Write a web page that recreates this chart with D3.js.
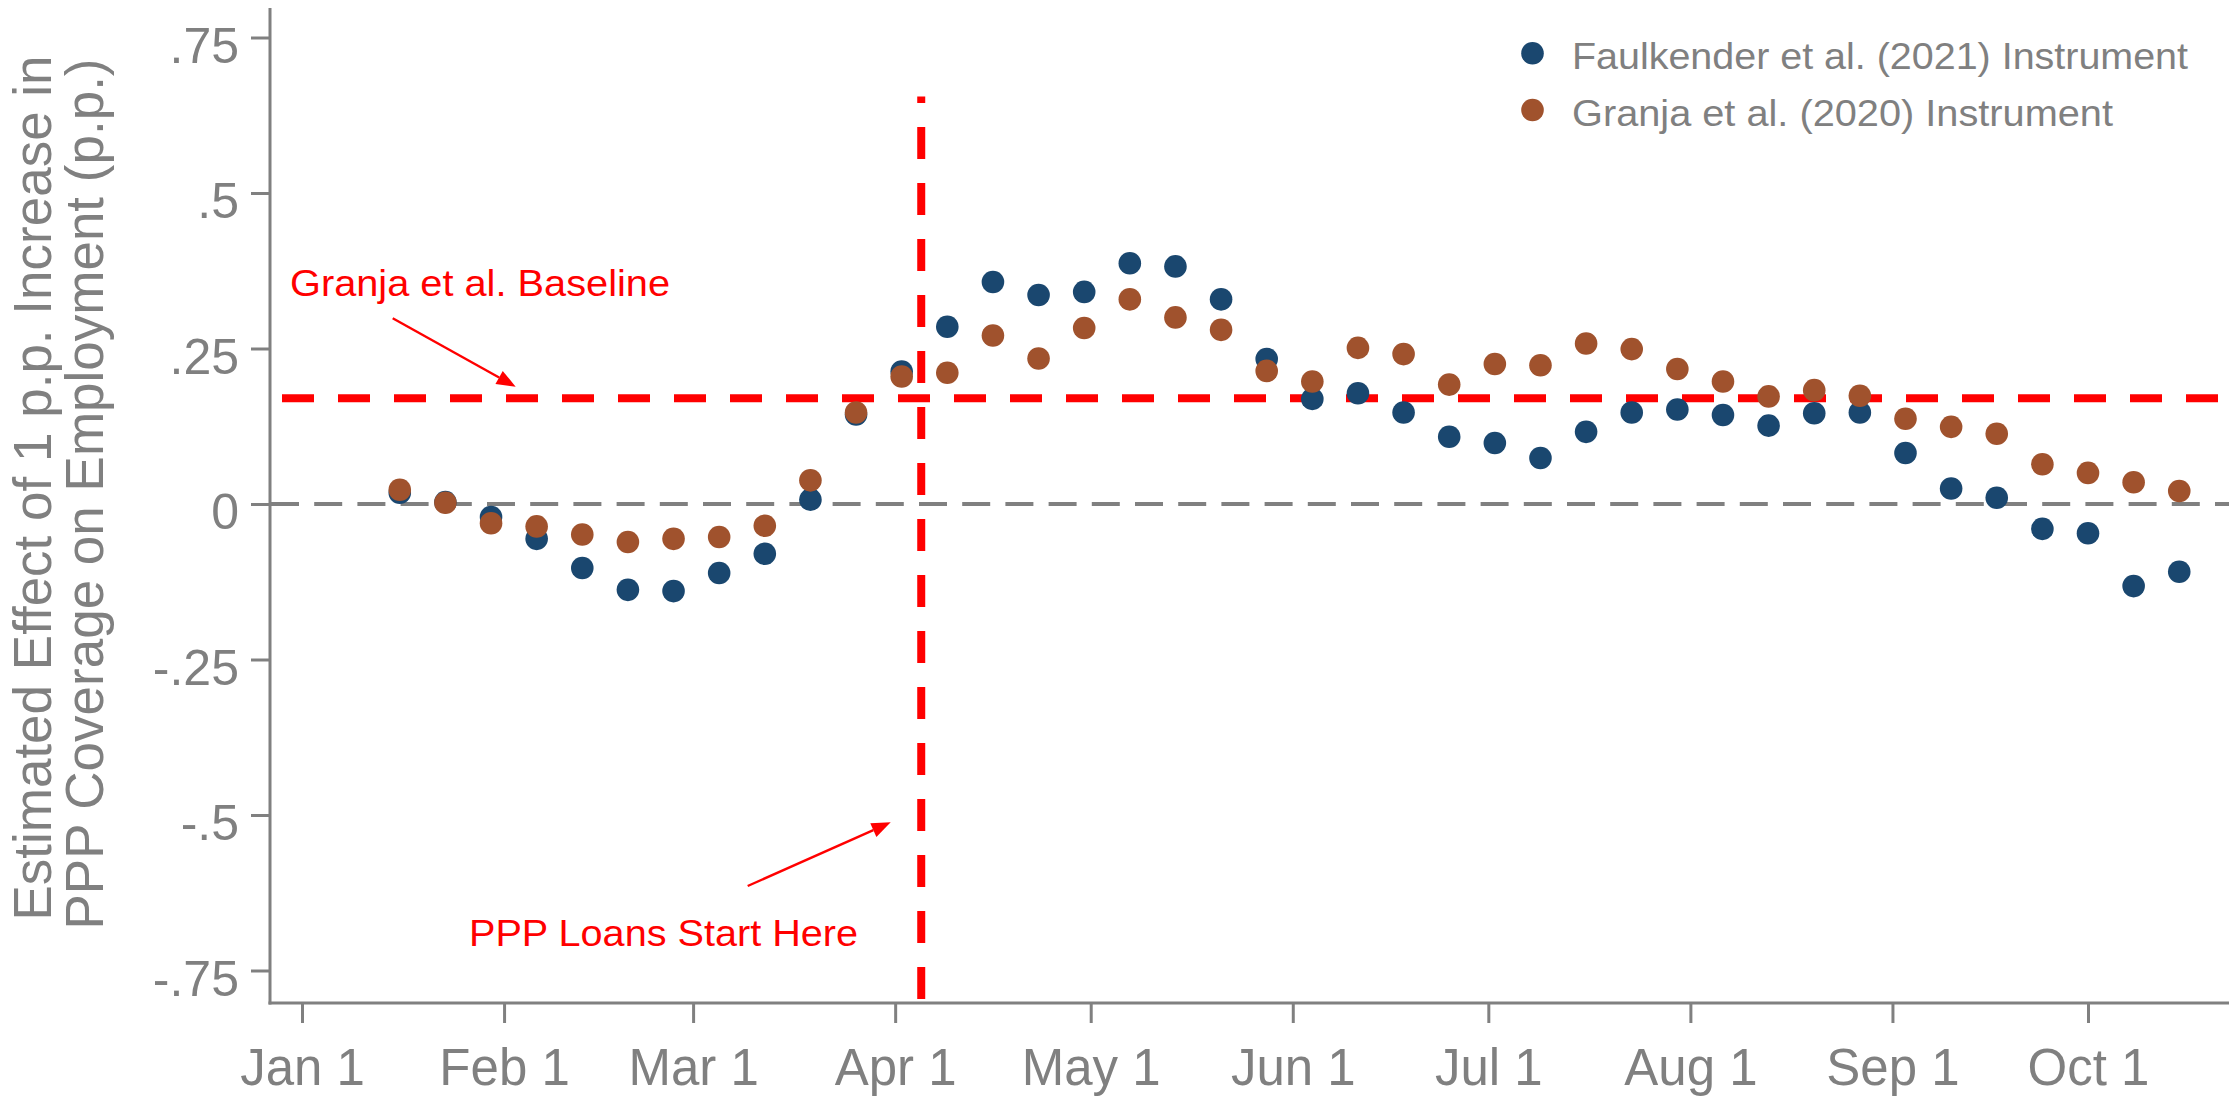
<!DOCTYPE html>
<html>
<head>
<meta charset="utf-8">
<script src="https://cdn.jsdelivr.net/npm/d3@7"></script>
<style>
  html, body { margin: 0; padding: 0; background: #ffffff; }
  svg { display: block; font-family: "Liberation Sans", Arial, sans-serif; }
</style>
</head>
<body>
<svg id="chart" width="2229" height="1096"></svg>
<script>
// Weekly estimates, 2020
const weekDates = [
  "2020-01-16","2020-01-23","2020-01-30","2020-02-06","2020-02-13","2020-02-20","2020-02-27",
  "2020-03-05","2020-03-12","2020-03-19","2020-03-26","2020-04-02","2020-04-09","2020-04-16",
  "2020-04-23","2020-04-30","2020-05-07","2020-05-14","2020-05-21","2020-05-28","2020-06-04",
  "2020-06-11","2020-06-18","2020-06-25","2020-07-02","2020-07-09","2020-07-16","2020-07-23",
  "2020-07-30","2020-08-06","2020-08-13","2020-08-20","2020-08-27","2020-09-03","2020-09-10",
  "2020-09-17","2020-09-24","2020-10-01","2020-10-08","2020-10-15"
];

// Faulkender et al. (2021) instrument
const faulkenderEst = [
  0.018, 0.003, -0.021, -0.056, -0.103, -0.138, -0.140, -0.111, -0.080, 0.007,
  0.144, 0.213, 0.285, 0.357, 0.336, 0.341, 0.387, 0.382, 0.329, 0.233,
  0.169, 0.178, 0.147, 0.108, 0.098, 0.074, 0.116, 0.147, 0.152, 0.143,
  0.126, 0.146, 0.147, 0.082, 0.025, 0.010, -0.040, -0.047, -0.132, -0.109
];

// Granja et al. (2020) instrument
const granjaEst = [
  0.023, 0.002, -0.031, -0.036, -0.049, -0.061, -0.056, -0.053, -0.035, 0.038,
  0.147, 0.205, 0.211, 0.271, 0.234, 0.283, 0.329, 0.300, 0.280, 0.214,
  0.197, 0.251, 0.241, 0.192, 0.225, 0.223, 0.258, 0.249, 0.217, 0.197,
  0.173, 0.183, 0.174, 0.137, 0.124, 0.113, 0.064, 0.050, 0.035, 0.021
];

const seriesNames = ["Faulkender et al. (2021) Instrument", "Granja et al. (2020) Instrument"];
const seriesColors = ["#1a476f", "#a0522d"];

const xTickDates = ["2020-01-01","2020-02-01","2020-03-01","2020-04-01","2020-05-01",
                    "2020-06-01","2020-07-01","2020-08-01","2020-09-01","2020-10-01"];
const yTickValues = [-0.75, -0.5, -0.25, 0, 0.25, 0.5, 0.75];

const granjaBaseline = 0.17;
const pppStartDate = "2020-04-05";
const pppLineTop = 0.655;

const yTitleLines = ["Estimated Effect of 1 p.p. Increase in", "PPP Coverage on Employment (p.p.)"];

// ---------------------------------------------------------------
const W = 2229, H = 1096;
const gray = "#808080";
const red = "#ff0000";
const parse = d3.utcParse("%Y-%m-%d");

const axisLeftX = 270, axisBottomY = 1003;

const x = d3.scaleUtc()
  .domain([parse("2020-01-01"), parse("2020-10-01")])
  .range([302, 2088]);

const y = d3.scaleLinear()
  .domain([-0.75, 0.75])
  .range([970.5, 37.5]);

// ".25" / "-.25" style labels without a leading zero
const fmtY = v => v === 0 ? "0" : (v < 0 ? "-" : "") + String(Math.abs(v)).replace(/^0/, "");

const svg = d3.select("#chart");
svg.append("rect").attr("width", W).attr("height", H).attr("fill", "#fff");

// zero reference line
svg.append("line")
  .attr("x1", axisLeftX + 1).attr("x2", W)
  .attr("y1", y(0)).attr("y2", y(0))
  .attr("stroke", gray).attr("stroke-width", 4)
  .attr("stroke-dasharray", "28 15.2");

// baseline estimate line
svg.append("line")
  .attr("x1", 282).attr("x2", W)
  .attr("y1", y(granjaBaseline)).attr("y2", y(granjaBaseline))
  .attr("stroke", red).attr("stroke-width", 8)
  .attr("stroke-dasharray", "32 24");

// PPP start line (drawn bottom to top)
svg.append("line")
  .attr("x1", x(parse(pppStartDate))).attr("x2", x(parse(pppStartDate)))
  .attr("y1", 999).attr("y2", y(pppLineTop))
  .attr("stroke", red).attr("stroke-width", 8)
  .attr("stroke-dasharray", "32 24");

// axes
const yAxis = d3.axisLeft(y)
  .tickValues(yTickValues)
  .tickSize(18)
  .tickPadding(12)
  .tickFormat(fmtY);

const yG = svg.append("g")
  .attr("transform", `translate(${axisLeftX - 1},0)`)
  .call(yAxis);
yG.select(".domain").remove();
yG.selectAll(".tick line").attr("stroke", gray).attr("stroke-width", 3);
yG.selectAll(".tick text")
  .attr("fill", gray)
  .attr("font-size", 50)
  .attr("x", -30)
  .attr("dy", "0.49em");

svg.append("line")
  .attr("x1", axisLeftX).attr("x2", axisLeftX)
  .attr("y1", 8).attr("y2", axisBottomY + 1.5)
  .attr("stroke", gray).attr("stroke-width", 3);

const xAxis = d3.axisBottom(x)
  .tickValues(xTickDates.map(parse))
  .tickSize(19)
  .tickFormat(d3.utcFormat("%b %-d"));

const xG = svg.append("g")
  .attr("transform", `translate(0,${axisBottomY + 1})`)
  .call(xAxis);
xG.select(".domain").remove();
xG.selectAll(".tick line").attr("stroke", gray).attr("stroke-width", 3);
xG.selectAll(".tick text")
  .attr("fill", gray)
  .attr("font-size", 51)
  .attr("y", 81)
  .attr("dy", 0);

svg.append("line")
  .attr("x1", axisLeftX - 1.5).attr("x2", W)
  .attr("y1", axisBottomY).attr("y2", axisBottomY)
  .attr("stroke", gray).attr("stroke-width", 3);

// y axis title
const titleG = svg.append("g");
[[51, 488], [103, 494]].forEach(([bx, cy], i) => {
  titleG.append("text")
    .attr("transform", `translate(${bx},${cy}) rotate(-90)`)
    .attr("text-anchor", "middle")
    .attr("fill", gray)
    .attr("font-size", 53)
    .text(yTitleLines[i]);
});

// points: Faulkender first, Granja on top
const r = 11.3;
[faulkenderEst, granjaEst].forEach((vals, si) => {
  svg.append("g")
    .selectAll("circle")
    .data(vals.map((v, i) => ({ date: parse(weekDates[i]), value: v })))
    .join("circle")
    .attr("cx", d => x(d.date))
    .attr("cy", d => y(d.value))
    .attr("r", r)
    .attr("fill", seriesColors[si]);
});

// annotations with arrows
function arrow(x1, y1, x2, y2) {
  const ang = Math.atan2(y2 - y1, x2 - x1);
  const L = 19, hw = 7.5;
  const bx = x2 - L * Math.cos(ang), by = y2 - L * Math.sin(ang);
  svg.append("line")
    .attr("x1", x1).attr("y1", y1).attr("x2", bx).attr("y2", by)
    .attr("stroke", red).attr("stroke-width", 2.4);
  const px = -Math.sin(ang) * hw, py = Math.cos(ang) * hw;
  svg.append("polygon")
    .attr("points", `${x2},${y2} ${bx + px},${by + py} ${bx - px},${by - py}`)
    .attr("fill", red);
}

svg.append("text")
  .attr("x", 290).attr("y", 296)
  .attr("fill", red).attr("font-size", 37)
  .attr("textLength", 380).attr("lengthAdjust", "spacingAndGlyphs")
  .text("Granja et al. Baseline");
arrow(392.7, 318.3, 515.7, 386.7);

svg.append("text")
  .attr("x", 469).attr("y", 946)
  .attr("fill", red).attr("font-size", 37)
  .attr("textLength", 389).attr("lengthAdjust", "spacingAndGlyphs")
  .text("PPP Loans Start Here");
arrow(747.7, 886, 890.7, 822.3);

// legend
const legend = svg.append("g");
const legendRows = [
  { cy: 53.3, base: 69.3, len: 616 },
  { cy: 110,  base: 126,  len: 541 }
];
legendRows.forEach((row, i) => {
  legend.append("circle")
    .attr("cx", 1532.5).attr("cy", row.cy).attr("r", r)
    .attr("fill", seriesColors[i]);
  legend.append("text")
    .attr("x", 1572).attr("y", row.base)
    .attr("fill", gray).attr("font-size", 36)
    .attr("textLength", row.len).attr("lengthAdjust", "spacingAndGlyphs")
    .text(seriesNames[i]);
});
</script>
</body>
</html>
